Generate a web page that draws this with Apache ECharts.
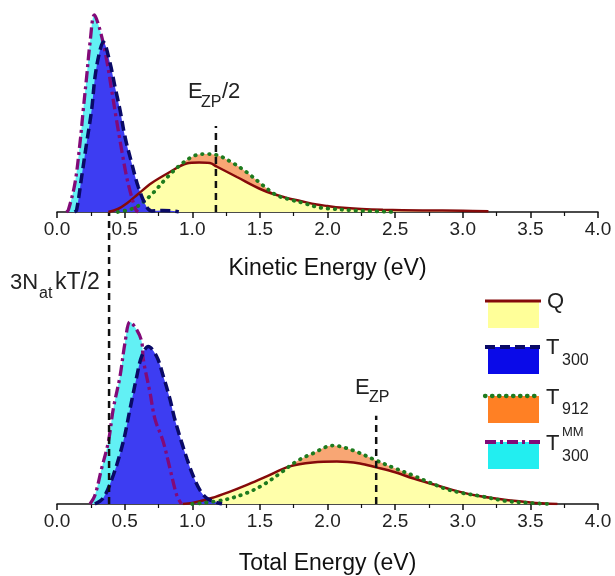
<!DOCTYPE html>
<html>
<head>
<meta charset="utf-8">
<script src="https://cdn.jsdelivr.net/npm/echarts@6/dist/echarts.min.js"></script>
<style>html,body{margin:0;padding:0;background:#fff}#c{width:615px;height:576px}</style>
</head>
<body>
<div id="c"></div>
<script>
// ---------- data (energy in eV, intensity in arbitrary units) ----------
const xMin = 0, xMax = 4, xStep = 0.5;

// Kinetic energy panel
const keQ = [[0.38,0],[0.45,3],[0.52,9],[0.60,18],[0.70,29],[0.835,40],[0.958,48.5],[1.05,49.5],[1.13,49],[1.18,45.5],[1.33,35],[1.52,22],[1.70,14],[1.80,11],[1.92,7.5],[2.0,6],[2.09,4.5],[2.25,3],[2.41,2.2],[2.7,1.6],[3.0,1.2],[3.19,0.8]];
const keT300 = [[0.13,0],[0.145,2],[0.182,35],[0.219,69],[0.256,102],[0.281,135],[0.313,159],[0.342,170],[0.392,149],[0.429,125],[0.466,102],[0.503,75],[0.552,49],[0.601,25],[0.663,5],[0.70,1],[0.78,1.5],[0.86,1],[0.90,0]];
const keT912 = [[0.45,0],[0.55,3],[0.61,7],[0.71,19],[0.81,34],[0.92,48],[1.03,57],[1.10,58],[1.18,57],[1.30,49],[1.40,40],[1.52,27],[1.62,17],[1.72,12.5],[1.82,9],[1.92,5],[2.0,3.5],[2.2,1.5],[2.5,0]];
const keT300MM = [[0.07,0],[0.084,2],[0.133,29],[0.17,69],[0.194,102],[0.219,135],[0.244,169],[0.276,197],[0.318,182],[0.367,152],[0.404,122],[0.44,92],[0.478,62],[0.515,35],[0.552,15],[0.584,2],[0.60,0]];

// Total energy panel
const teQ = [[0.93,0],[1.0,1],[1.143,6],[1.27,12],[1.40,19],[1.55,28],[1.72,38],[1.89,42],[2.07,43],[2.24,41],[2.36,37],[2.5,32],[2.63,26],[2.78,20],[2.93,14],[3.1,8.5],[3.27,5],[3.5,1.5],[3.7,0]];
const teT300 = [[0.28,0],[0.342,6],[0.416,29],[0.49,63],[0.54,96],[0.59,129],[0.626,149],[0.675,159],[0.737,149],[0.786,129],[0.835,106],[0.87,86],[0.92,63],[0.96,46],[1.008,28],[1.057,14],[1.106,6],[1.15,3],[1.22,0]];
const teT912 = [[1.0,0],[1.23,4],[1.4,11],[1.52,19],[1.65,31],[1.77,43],[1.89,51],[2.04,59],[2.19,54],[2.36,44],[2.5,36],[2.63,29],[2.75,22],[2.88,15],[3.0,11],[3.13,8],[3.32,3],[3.5,1],[3.65,0]];
const teT300MM = [[0.244,0],[0.281,9],[0.33,36],[0.38,63],[0.416,96],[0.466,129],[0.503,163],[0.54,184],[0.589,176],[0.626,164],[0.638,146],[0.687,113],[0.724,86],[0.785,63],[0.835,36],[0.885,9],[0.92,0]];

// reference energies
const eZPhalf = 1.175;   // E_ZP/2 (kinetic)
const eZP = 2.36;        // E_ZP (total)
const e3NkT2 = 0.385;    // 3N_at kT/2
const refZPhalf = [[eZPhalf,0],[eZPhalf,86]];
const refZP = [[eZP,0],[eZP,89]];
const ref3NkT = [[e3NkT2,0],[e3NkT2,294]];

const axisTitles = ['Kinetic Energy (eV)', 'Total Energy (eV)'];

// ---------- styles ----------
const FONT = 'Liberation Sans, Arial, Helvetica, sans-serif';
const plotFill = {Q:'#FFFFAA', T300:'#3D3DF2', T912:'#F8A674', MM:'#62F0F4'};
const legFill = {Q:'#FFFF99', T300:'#0A0AE8', T912:'#FF8024', MM:'#22EEF0'};
const lineSty = {
  Q:{color:'#850A0A', width:2.5, type:'solid'},
  T300:{color:'#0A0A66', width:3.5, type:[10,5]},
  T912:{color:'#1E7B1E', width:3.8, type:[0.5,6.5], cap:'round'},
  MM:{color:'#820A78', width:3.3, type:[11,4,3,4]}
};

function xAxisDef(idx, name, gap){
  return {
    type:'value', gridIndex:idx, min:xMin, max:xMax, interval:xStep,
    name:name, nameLocation:'middle', nameGap:gap,
    nameTextStyle:{fontFamily:FONT, fontSize:23, color:'#111'},
    axisLine:{show:true, onZero:false, lineStyle:{color:'#111', width:1.5}},
    axisTick:{show:true, length:6, lineStyle:{color:'#111', width:1.5}},
    minorTick:{show:true, splitNumber:2, length:4, lineStyle:{color:'#111', width:1.2}},
    axisLabel:{fontFamily:FONT, fontSize:19, color:'#222', margin:8, formatter:v=>v.toFixed(1)},
    splitLine:{show:false}, minorSplitLine:{show:false}
  };
}
function fillSeries(data, idx, color){
  return {type:'line', xAxisIndex:idx, yAxisIndex:idx, data:data, smooth:0.35, showSymbol:false,
    lineStyle:{width:0, opacity:0}, areaStyle:{color:color, opacity:1}, z:2, silent:true};
}
function lineSeries(data, idx, ls){
  return {type:'line', xAxisIndex:idx, yAxisIndex:idx, data:data, smooth:0.35, showSymbol:false,
    lineStyle:Object.assign({}, ls), z:3, silent:true};
}
function refSeries(data, idx){
  return {type:'line', xAxisIndex:idx, yAxisIndex:idx, data:data, showSymbol:false, clip:false,
    lineStyle:{color:'#111', width:2.5, type:[7,5]}, z:4, silent:true};
}

function txt(x, y, t, size, align){
  return {type:'text', x:x, y:y, silent:true, z:10,
    style:{text:t, fontFamily:FONT, fontSize:size, fill:'#222',
      textAlign:align||'left', align:align||'left', textVerticalAlign:'middle', verticalAlign:'middle'}};
}
function legendItem(y, fill, ls){
  const line = {type:'line', silent:true, z:10, shape:{x1:485, y1:y, x2:541, y2:y},
    style:{stroke:ls.color, lineWidth:ls.width+0.5, lineDash:(ls.type==='solid'?null:ls.type), lineCap:ls.cap||'butt'}};
  const box = {type:'rect', silent:true, z:9, shape:{x:488, y:y, width:51, height:27}, style:{fill:fill}};
  return [box, line];
}

const graphics = [].concat(
  // annotations
  txt(188, 92, 'E', 22), txt(201, 102.5, 'ZP', 16), txt(222, 92, '/2', 22),
  txt(10, 283, '3N', 22), txt(39, 294, 'at', 16), txt(55, 283, 'kT/2', 23),
  txt(355, 387.5, 'E', 22), txt(369, 398, 'ZP', 16),
  // legend
  legendItem(301, legFill.Q, lineSty.Q),
  legendItem(347, legFill.T300, lineSty.T300),
  legendItem(396, legFill.T912, lineSty.T912),
  legendItem(442, legFill.MM, lineSty.MM),
  [txt(547, 302, 'Q', 22),
   txt(546, 348, 'T', 22), txt(562, 361, '300', 16),
   txt(546, 398, 'T', 22), txt(562, 410, '912', 16),
   txt(546, 444, 'T', 22), txt(562, 432.5, 'MM', 13), txt(562, 457, '300', 16)]
);

const chart = echarts.init(document.getElementById('c'), null, {renderer:'canvas'});
chart.setOption({
  backgroundColor:'#fff',
  animation:false,
  grid:[
    {left:57, width:541, top:10, height:202},
    {left:57, width:541, top:300, height:206}
  ],
  xAxis:[xAxisDef(0, axisTitles[0], 45), xAxisDef(1, axisTitles[1], 48)],
  yAxis:[
    {type:'value', gridIndex:0, min:0, max:202, show:false},
    {type:'value', gridIndex:1, min:0, max:206, show:false}
  ],
  series:[
    // fills (back to front)
    fillSeries(keT912, 0, plotFill.T912),
    fillSeries(keQ, 0, plotFill.Q),
    fillSeries(keT300MM, 0, plotFill.MM),
    fillSeries(keT300, 0, plotFill.T300),
    fillSeries(teT912, 1, plotFill.T912),
    fillSeries(teQ, 1, plotFill.Q),
    fillSeries(teT300MM, 1, plotFill.MM),
    fillSeries(teT300, 1, plotFill.T300),
    // curves
    lineSeries(keQ, 0, lineSty.Q),
    lineSeries(keT912, 0, lineSty.T912),
    lineSeries(keT300MM, 0, lineSty.MM),
    lineSeries(keT300, 0, lineSty.T300),
    lineSeries(teQ, 1, lineSty.Q),
    lineSeries(teT912, 1, lineSty.T912),
    lineSeries(teT300MM, 1, lineSty.MM),
    lineSeries(teT300, 1, lineSty.T300),
    // reference lines
    refSeries(refZPhalf, 0),
    refSeries(refZP, 1),
    refSeries(ref3NkT, 1)
  ],
  graphic:graphics
});
</script>
</body>
</html>
